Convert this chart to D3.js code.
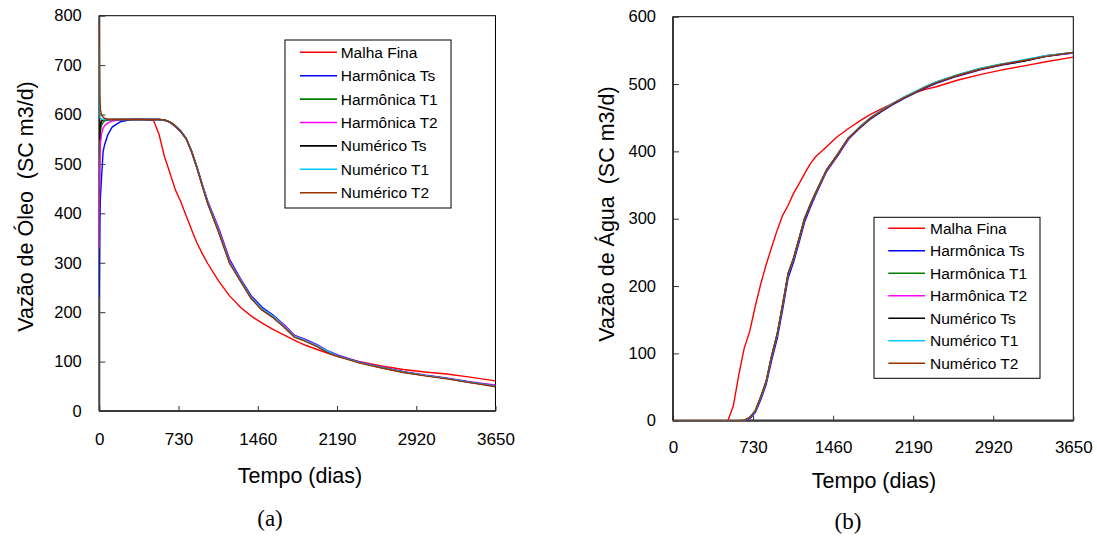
<!DOCTYPE html>
<html>
<head>
<meta charset="utf-8">
<script src="https://cdn.jsdelivr.net/npm/d3@7"></script>
<style>
  html, body { margin: 0; padding: 0; background: #fff; }
  svg { display: block; }
  text { font-family: "Liberation Sans", Arial, sans-serif; fill: #000; }
  .caption { font-family: "Liberation Serif", "Times New Roman", serif; }
</style>
</head>
<body>
<svg id="fig" width="1097" height="538"></svg>
<script>
// ---- Series definitions ----
const seriesNames = ["Malha Fina", "Harmônica Ts", "Harmônica T1", "Harmônica T2",
                     "Numérico Ts", "Numérico T1", "Numérico T2"];
const seriesColors = ["#ff0000", "#0000ff", "#008000", "#ff00ff", "#000000", "#00ccff", "#993300"];

// ---- Axis ticks ----
const timeTicks = [0, 730, 1460, 2190, 2920, 3650];
const oilTicks = [0, 100, 200, 300, 400, 500, 600, 700, 800];
const waterTicks = [0, 100, 200, 300, 400, 500, 600];

// ---- Oil rate (SC m3/d) vs time (days) ----
const oilDays = [0, 2, 5, 10, 20, 35, 50, 80, 120, 200,
                 300, 400, 500, 550, 600, 650, 700, 750, 800, 850,
                 900, 950, 1000, 1100, 1200, 1300, 1400, 1500, 1600, 1700,
                 1800, 1900, 2000, 2100, 2200, 2400, 2600, 2800, 3000, 3200,
                 3400, 3650];
const oilMalhaFina = [495, 540, 565, 580, 588, 590, 590, 590, 590, 590,
                      590, 590, 588, 560, 515, 482, 448, 424, 395, 367,
                      340, 318, 298, 263, 233, 210, 192, 178, 165, 154,
                      143, 133, 125, 117, 110, 100, 91, 84, 79, 75,
                      69, 61];
const oilHarmTs = [230, 300, 380, 430, 470, 525, 540, 560, 575, 586,
                   590, 590, 590, 590, 588, 584, 576, 565, 551, 526,
                   494, 458, 424, 370, 307, 268, 233, 210, 194, 175,
                   153, 145, 135, 122, 113, 99, 88, 79, 72, 66,
                   58, 52];
const oilHarmT1 = [450, 500, 540, 565, 578, 584, 587, 589, 590, 590,
                   590, 590, 590, 590, 589, 585, 577, 566, 552, 525,
                   493, 456, 421, 366, 303, 265, 229, 206, 191, 172,
                   151, 143, 133, 120, 111, 98, 88, 79, 72, 66,
                   59, 51];
const oilHarmT2 = [330, 420, 500, 540, 560, 572, 578, 583, 587, 590,
                   590, 590, 590, 590, 589, 585, 577, 566, 552, 526,
                   493, 457, 422, 368, 304, 266, 230, 207, 192, 174,
                   152, 144, 134, 121, 112, 99, 89, 80, 73, 67,
                   60, 52];
const oilNumTs = [655, 550, 565, 578, 586, 589, 590, 590, 590, 590,
                  590, 590, 590, 590, 589, 585, 577, 567, 552, 525,
                  492, 455, 420, 362, 300, 264, 228, 205, 190, 171,
                  150, 142, 132, 119, 111, 98, 88, 79, 72, 66,
                  59, 50];
const oilNumT1 = [735, 600, 594, 592, 591, 590, 590, 590, 590, 590,
                  590, 590, 590, 590, 589, 585, 577, 567, 552, 525,
                  492, 456, 421, 364, 301, 265, 229, 207, 192, 172,
                  151, 143, 133, 121, 111, 98, 88, 79, 72, 66,
                  59, 50];
const oilNumT2 = [785, 700, 640, 610, 600, 595, 592, 590, 590, 590,
                  590, 590, 590, 590, 589, 585, 577, 566, 551, 524,
                  491, 454, 419, 361, 299, 263, 227, 204, 189, 170,
                  149, 141, 131, 118, 110, 97, 87, 78, 71, 65,
                  58, 49];

// ---- Water rate (SC m3/d) vs time (days) ----
const waterDays = [0, 400, 500, 550, 600, 650, 700, 750, 800, 850,
                   900, 950, 1000, 1050, 1100, 1150, 1200, 1250, 1300, 1400,
                   1500, 1600, 1700, 1800, 1900, 2000, 2100, 2200, 2300, 2400,
                   2600, 2800, 3000, 3200, 3400, 3650];
const waterMalhaFina = [0, 0, 0, 22, 68, 108, 133, 170, 203, 232,
                        258, 283, 305, 320, 338, 352, 367, 381, 392, 407,
                        422, 434, 445, 455, 463, 471, 479, 487, 492, 496,
                        506, 514, 521, 527, 533, 540];
const waterHarmTs = [0, 0, 0, 0, 0, 0, 3, 12, 31, 54,
                     90, 122, 165, 212, 236, 265, 295, 316, 335, 370,
                     393, 418, 434, 448, 459, 469, 478, 486, 494, 501,
                     512, 521, 528, 534, 541, 546];
const waterHarmT1 = [0, 0, 0, 0, 0, 0, 5, 15, 35, 59,
                     97, 129, 173, 219, 242, 271, 301, 321, 339, 373,
                     396, 420, 436, 450, 461, 471, 480, 488, 496, 503,
                     514, 523, 530, 535, 542, 547];
const waterHarmT2 = [0, 0, 0, 0, 0, 0, 4, 14, 34, 57,
                     95, 127, 171, 217, 240, 269, 299, 319, 337, 371,
                     394, 419, 435, 449, 460, 470, 479, 487, 495, 502,
                     513, 522, 529, 535, 542, 546];
const waterNumTs = [0, 0, 0, 0, 0, 0, 5, 14, 35, 58,
                    96, 128, 172, 218, 241, 270, 300, 320, 338, 372,
                    395, 420, 435, 449, 460, 470, 479, 487, 495, 502,
                    513, 522, 529, 534, 541, 547];
const waterNumT1 = [0, 0, 0, 0, 0, 0, 5, 14, 35, 58,
                    96, 128, 172, 218, 241, 270, 300, 320, 338, 372,
                    395, 420, 436, 450, 461, 471, 480, 488, 496, 503,
                    514, 523, 530, 536, 542, 547];
const waterNumT2 = [0, 0, 0, 0, 0, 1, 5, 15, 36, 59,
                    97, 129, 173, 219, 242, 271, 300, 320, 338, 372,
                    395, 420, 435, 449, 460, 470, 479, 487, 495, 502,
                    513, 522, 529, 535, 541, 547];

const oilSeries = [oilMalhaFina, oilHarmTs, oilHarmT1, oilHarmT2, oilNumTs, oilNumT1, oilNumT2];
const waterSeries = [waterMalhaFina, waterHarmTs, waterHarmT1, waterHarmT2, waterNumTs, waterNumT1, waterNumT2];

const svg = d3.select("#fig");

function drawPanel(cfg) {
  const g = svg.append("g");
  const x = d3.scaleLinear().domain([0, 3650]).range([cfg.left, cfg.right]);
  const y = d3.scaleLinear().domain([0, cfg.yMax]).range([cfg.bottom, cfg.top]);

  const clipId = "clip-" + cfg.id;
  g.append("clipPath").attr("id", clipId)
    .append("rect")
    .attr("x", cfg.left).attr("y", cfg.top)
    .attr("width", cfg.right - cfg.left).attr("height", cfg.bottom - cfg.top);

  // frame
  g.append("rect")
    .attr("x", cfg.left).attr("y", cfg.top)
    .attr("width", cfg.right - cfg.left).attr("height", cfg.bottom - cfg.top)
    .attr("fill", "none").attr("stroke", "#000").attr("stroke-width", 1);

  // axes with inward ticks
  const xAxis = g.append("g")
    .attr("transform", `translate(0,${cfg.bottom})`)
    .call(d3.axisBottom(x).tickValues(timeTicks).tickFormat(d3.format("d"))
      .tickSizeInner(-5).tickSizeOuter(0).tickPadding(cfg.xPad));
  const yAxis = g.append("g")
    .attr("transform", `translate(${cfg.left},0)`)
    .call(d3.axisLeft(y).tickValues(cfg.yTicks).tickFormat(d3.format("d"))
      .tickSizeInner(-6).tickSizeOuter(0).tickPadding(cfg.yPad));

  [xAxis, yAxis].forEach(a => {
    a.select(".domain").remove();
    a.selectAll(".tick line").attr("stroke", "#333").attr("stroke-width", 1);
    a.selectAll(".tick text")
      .style("font-family", "'Liberation Sans', Arial, sans-serif")
      .attr("fill", "#000");
  });
  xAxis.selectAll(".tick text").style("font-size", "17px");
  yAxis.selectAll(".tick text").style("font-size", "16.5px");

  // axis lines
  g.append("line")
    .attr("x1", cfg.left).attr("x2", cfg.right)
    .attr("y1", cfg.bottom).attr("y2", cfg.bottom)
    .attr("stroke", "#3a3a3a").attr("stroke-width", 2.2);
  g.append("line")
    .attr("x1", cfg.left).attr("x2", cfg.left)
    .attr("y1", cfg.top).attr("y2", cfg.bottom)
    .attr("stroke", cfg.leftAxisColor).attr("stroke-width", cfg.leftAxisWidth);

  // curves
  const line = d3.line()
    .x((d, i) => x(cfg.days[i]))
    .y(d => y(d));
  const curves = g.append("g").attr("clip-path", `url(#${clipId})`);
  cfg.series.forEach((vals, k) => {
    curves.append("path")
      .datum(vals)
      .attr("d", line)
      .attr("fill", "none")
      .attr("stroke", seriesColors[k])
      .attr("stroke-width", 1.4)
      .attr("stroke-linejoin", "round");
  });

  // axis titles
  g.append("text")
    .attr("transform", `translate(${cfg.yLabelX},${cfg.yLabelY}) rotate(-90)`)
    .attr("text-anchor", "middle")
    .attr("dy", "0.35em")
    .style("font-size", "21.5px")
    .style("white-space", "pre")
    .text(cfg.yLabel);
  g.append("text")
    .attr("x", cfg.xLabelX).attr("y", cfg.xLabelY)
    .attr("text-anchor", "middle")
    .style("font-size", "21.5px")
    .text("Tempo (dias)");
  g.append("text")
    .attr("class", "caption")
    .attr("x", cfg.capX).attr("y", cfg.capY)
    .attr("text-anchor", "middle")
    .style("font-size", "23px")
    .text(cfg.caption);

  // legend
  const L = cfg.legend;
  g.append("rect")
    .attr("x", L.x).attr("y", L.y).attr("width", L.w).attr("height", L.h)
    .attr("fill", "#fff").attr("stroke", "#000").attr("stroke-width", 1);
  seriesNames.forEach((name, k) => {
    const yy = L.firstRow + k * L.step;
    g.append("line")
      .attr("x1", L.lineX1).attr("x2", L.lineX2)
      .attr("y1", yy).attr("y2", yy)
      .attr("stroke", seriesColors[k]).attr("stroke-width", 1.6);
    g.append("text")
      .attr("x", L.textX).attr("y", yy)
      .attr("dy", "0.35em")
      .style("font-size", "15.5px")
      .text(name);
  });
}

drawPanel({
  id: "oil",
  left: 99.3, right: 495.5, top: 15.7, bottom: 411,
  yMax: 800, yTicks: oilTicks,
  days: oilDays, series: oilSeries,
  xPad: 22, yPad: 17.5,
  leftAxisColor: "#444", leftAxisWidth: 2,
  yLabel: "Vazão de Óleo  (SC m3/d)", yLabelX: 25, yLabelY: 206.5,
  xLabelX: 300, xLabelY: 482.5,
  caption: "(a)", capX: 270, capY: 526,
  legend: { x: 285, y: 40, w: 166, h: 168, firstRow: 52.3, step: 23.4,
            lineX1: 300, lineX2: 337, textX: 340.7 }
});

drawPanel({
  id: "water",
  left: 673, right: 1073.3, top: 16.7, bottom: 420.7,
  yMax: 600, yTicks: waterTicks,
  days: waterDays, series: waterSeries,
  xPad: 20.5, yPad: 17,
  leftAxisColor: "#222", leftAxisWidth: 1.5,
  yLabel: "Vazão de Água  (SC m3/d)", yLabelX: 606.7, yLabelY: 214,
  xLabelX: 874, xLabelY: 488.3,
  caption: "(b)", capX: 848, capY: 529,
  legend: { x: 874, y: 217.3, w: 166, h: 161, firstRow: 228.3, step: 22.5,
            lineX1: 888.3, lineX2: 925, textX: 930 }
});
</script>
</body>
</html>
